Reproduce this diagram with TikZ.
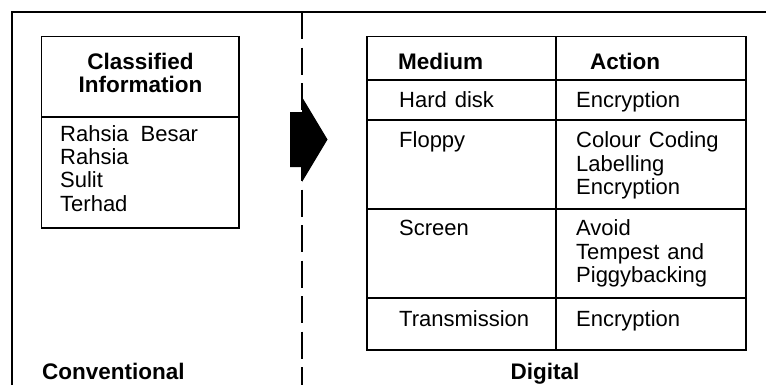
\documentclass[tikz,border=0pt]{standalone}
\usepackage{fontspec}
\setmainfont{Liberation Sans}[WordSpace=1.3]
\begin{document}
\begin{tikzpicture}[x=1bp,y=-1bp,
  frame/.style={line width=1.1bp},
  rule/.style={line width=1.3bp},
  divider/.style={line width=1.2bp, dash pattern=on 27bp off 8.5bp},
  txt/.style={anchor=base west, inner sep=0pt, font=\fontsize{22bp}{23.3bp}\selectfont},
  hd/.style={txt, font=\fontsize{22.5bp}{23.3bp}\selectfont\bfseries},
  hdc/.style={hd, anchor=base}]
\useasboundingbox (0,0) rectangle (766,385);

% open outer frame and the dashed divider
\draw[frame] (12,385) -- (12,12) -- (766,12);
\draw[divider] (302,12) -- (302,385);

% block arrow pointing right
\fill (290,112) -- (302,112) -- (302,97) -- (327.5,139.5) -- (302,182)
      -- (302,167) -- (290,167) -- cycle;

% conventional side: classified information box
\draw[rule] (41.7,36.7) rectangle (239,228);
\draw[rule] (41.7,117) -- (239,117);
\node[hdc] (ci1) at (140.5,69) {Classified};
\node[hdc] (ci2) at (140.5,92.5) {Information};
\node[txt] (l1) at (60,141) {Rahsia\hspace{4bp} Besar};
\node[txt] (l2) at (60,164.3) {Rahsia};
\node[txt] (l3) at (60,187.6) {Sulit};
\node[txt] (l4) at (60,211) {Terhad};
\node[hd] (conv) at (42,379) {Conventional};

% digital side: medium / action table
\draw[rule] (367,36.7) rectangle (746,350);
\draw[rule] (556,36.7) -- (556,350);
\foreach \yy in {80,120,209,298} \draw[rule] (367,\yy) -- (746,\yy);

\node[hd] (medium) at (398,69) {Medium};
\node[hd] (action) at (590,69) {Action};

\node[txt] (m1) at (399,107.5) {Hard disk};
\node[txt] (a1) at (576,107.5) {Encryption};

\node[txt] (m2) at (399,147.5) {Floppy};
\node[txt] (a2a) at (576,147.5) {Colour Coding};
\node[txt] (a2b) at (576,171) {Labelling};
\node[txt] (a2c) at (576,194.3) {Encryption};

\node[txt] (m3) at (399,235.5) {Screen};
\node[txt] (a3a) at (576,235.5) {Avoid};
\node[txt] (a3b) at (576,259) {Tempest and};
\node[txt] (a3c) at (576,282.3) {Piggybacking};

\node[txt] (m4) at (399,326) {Transmission};
\node[txt] (a4) at (576,326) {Encryption};

\node[hdc] (dig) at (545,379) {Digital};
\end{tikzpicture}
\end{document}
